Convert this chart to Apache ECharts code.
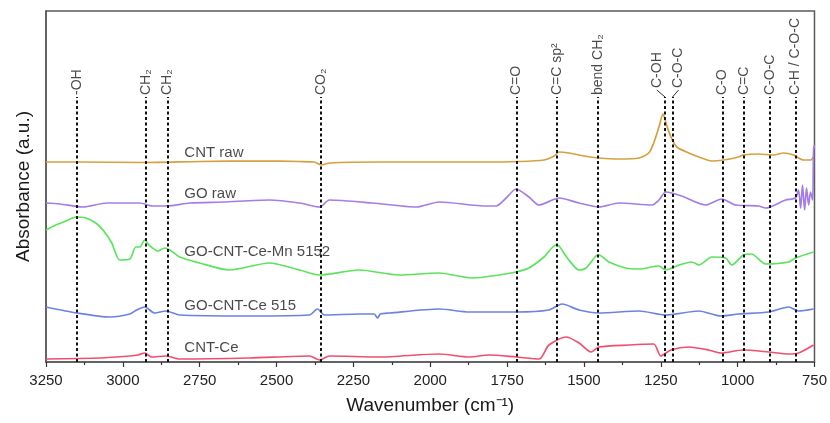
<!DOCTYPE html>
<html><head><meta charset="utf-8">
<script src="https://cdn.jsdelivr.net/npm/echarts@6/dist/echarts.min.js"></script>
<style>html,body{margin:0;padding:0;background:#fff}#c{width:830px;height:423px}</style>
</head><body><div id="c"></div>
<script>
const seriesNames = ['CNT raw', 'GO raw', 'GO-CNT-Ce-Mn 5152', 'GO-CNT-Ce 515', 'CNT-Ce'];

const cntRawWn  = [3250,3140,2929,2750,2555,2425,2377,2354,2328,2166,1971,1841,1711,1630,1597,1581,1549,1500,1451,1386,1321,1289,1273,1256,1243,1231,1217,1198,1159,1126,1084,1045,997,981,932,883,851,818,786,763,753];
const cntRawAbs = [200,200,199.5,200.5,201,200.5,200,197,199,200,200,200,200.5,202,206,210,209,206,204,203,204,209,219,235,248,237,225,215,209,205,201,202,205,207,208,207,209,207,202,202,205];

const goRawWn  = [3250,3205,3130,3052,2945,2903,2857,2782,2675,2523,2425,2360,2328,2188,2045,1971,1818,1786,1753,1721,1679,1646,1581,1516,1451,1386,1279,1256,1234,1182,1104,1052,1006,932,909,844,812,802,795,789,782,776,769,763,756,753,750];
const goRawAbs = [159,158,155,159,159,156,156,159,160,162,159,155,162,159,155,160,156,156,164,173,165,157,164,159,155,159,157,162,170,166,157,163,157,156,154,162,164,172,154,177,152,174,157,170,162,212,217];

const goCntCeMnWn  = [3250,3218,3185,3153,3120,3088,3062,3036,3010,2977,2958,2945,2929,2912,2886,2864,2847,2815,2750,2653,2523,2425,2360,2328,2231,2101,1971,1864,1776,1721,1679,1630,1591,1581,1549,1516,1493,1461,1451,1419,1364,1321,1256,1234,1191,1149,1126,1084,1039,1019,981,955,909,834,812,753];
const goCntCeMnAbs = [132,137,141,145,144,139,131,119,102,103,115,115,122,116,111,114,112,105,99,92,99,92,87,88,92,87,89,84,87,90,94,105,117,116,102,92,94,106,107,100,94,93,96,92,97,100,97,105,104,97,107,108,98,100,104,110];

const goCntCeWn  = [3250,3149,3042,2977,2955,2929,2896,2860,2815,2588,2393,2367,2344,2231,2182,2172,2162,2133,1971,1873,1721,1614,1571,1516,1451,1321,1234,1126,1055,997,899,834,802,753];
const goCntCeAbs = [55,49,45,48,52,55,49,51,47,46,47,53,47,48,48,44,48,49,53,50,50,52,58,52,49,51,47,51,46,48,50,55,51,53];

const cntCeWn  = [3250,3075,2977,2951,2929,2906,2860,2815,2588,2393,2360,2328,2166,1971,1873,1808,1721,1646,1614,1558,1516,1477,1451,1354,1273,1250,1217,1159,1094,1055,981,899,834,802,753];
const cntCeAbs = [3,4,6,7,9,5,6,3,4,6,2,6,5,8,5,7,5,3,17,25,19,10,15,17,18,6,12,15,12,9,12,10,8,9,17];

const seriesColors = ['#d6a040', '#a47de6', '#5ce35c', '#6b83e2', '#f1506d'];

// sample label anchors (wavenumber, absorbance units)
const seriesLabelWn = 2800;
const seriesLabelAbs = [209, 168, 110, 56, 14];

// band assignments
const peakNames   = ['-OH', 'CH₂', 'CH₂', 'CO₂', 'C=O', 'C=C sp²', 'bend CH₂', 'C-OH', 'C-O-C', 'C-O', 'C=C', 'C-O-C', 'C-H / C-O-C'];
const peakWn      = [3150, 2925, 2855, 2355, 1720, 1588, 1455, 1236, 1212, 1050, 980, 894, 812];
const peakLabelWn = [3150, 2925, 2855, 2355, 1720, 1588, 1455, 1263, 1192, 1050, 980, 894, 812];
const peakLineTop = 265;
const peakLabelBase = [265, 265, 265, 265, 265, 265, 265, 272, 272, 265, 265, 265, 265];

const xs = [cntRawWn, goRawWn, goCntCeMnWn, goCntCeWn, cntCeWn];
const ys = [cntRawAbs, goRawAbs, goCntCeMnAbs, goCntCeAbs, cntCeAbs];

const FONT = 'Liberation Sans, Arial, Helvetica, sans-serif';

const series = seriesNames.map((n, i) => ({
  name: n, type: 'line', showSymbol: false, smooth: 0.25, z: 2,
  lineStyle: { color: seriesColors[i], width: 1.7 },
  itemStyle: { color: seriesColors[i] },
  data: xs[i].map((w, j) => [w, ys[i][j]])
}));

// sample names
series.push({
  type: 'scatter', symbolSize: 0, z: 5, silent: true,
  data: seriesLabelAbs.map((a, i) => ({ value: [seriesLabelWn, a], name: seriesNames[i] })),
  label: { show: true, position: 'right', distance: 0, formatter: p => p.name,
           color: '#1a1a1a', fontSize: 15, fontFamily: FONT }
});

// dashed band lines + labels
const lineData = peakWn.map(w => [{ coord: [w, 0] }, { coord: [w, peakLineTop] }]);
peakWn.forEach((w, i) => {
  if (peakLabelWn[i] !== w) lineData.push([{ coord: [w, peakLineTop], lineStyle: { type: 'solid', width: 1, color: '#333' } }, { coord: [peakLabelWn[i], peakLabelBase[i]], lineStyle: { type: 'solid', width: 1, color: '#333' } }]);
});
series.push({
  type: 'scatter', symbolSize: 0, z: 6, silent: true,
  data: peakLabelWn.map((w, i) => ({ value: [w, peakLabelBase[i]], name: peakNames[i] })),
  label: { show: true, position: 'top', distance: 2, rotate: 90, align: 'left', verticalAlign: 'middle',
           formatter: p => p.name, color: '#1a1a1a', fontSize: 14, fontFamily: FONT },
  markLine: {
    silent: true, symbol: 'none', z: 6,
    label: { show: false },
    lineStyle: { color: '#111', type: [3, 2.5], width: 2 },
    data: lineData
  }
});

const chart = echarts.init(document.getElementById('c'), null, { renderer: 'canvas' });
chart.setOption({
  animation: false,
  backgroundColor: '#fff',
  grid: { left: 46, right: 14, top: 11, bottom: 61, show: true, borderColor: '#5a5a5a', borderWidth: 1.5, backgroundColor: 'transparent' },
  xAxis: {
    type: 'value', inverse: true, min: 750, max: 3250, interval: 250,
    name: 'Wavenumber (cm⁻¹)', nameLocation: 'middle', nameGap: 34,
    nameTextStyle: { fontSize: 19, color: '#1a1a1a', fontFamily: FONT },
    axisLine: { show: true, lineStyle: { color: '#5a5a5a', width: 1.5 } },
    axisTick: { show: true, inside: false, length: 5, lineStyle: { color: '#333', width: 1.2 } },
    minorTick: { show: true, splitNumber: 2, length: 3, lineStyle: { color: '#333', width: 1.2 } },
    axisLabel: { color: '#222', fontSize: 15, margin: 11, fontFamily: FONT, formatter: v => String(v) },
    splitLine: { show: false }
  },
  yAxis: {
    type: 'value', min: 0, max: 351,
    name: 'Absorbance (a.u.)', nameLocation: 'middle', nameGap: 13,
    nameTextStyle: { fontSize: 19, color: '#1a1a1a', fontFamily: FONT },
    axisLine: { show: true, lineStyle: { color: '#5a5a5a', width: 1.5 } },
    axisTick: { show: false }, axisLabel: { show: false }, splitLine: { show: false }
  },
  series: series
});
</script></body></html>
